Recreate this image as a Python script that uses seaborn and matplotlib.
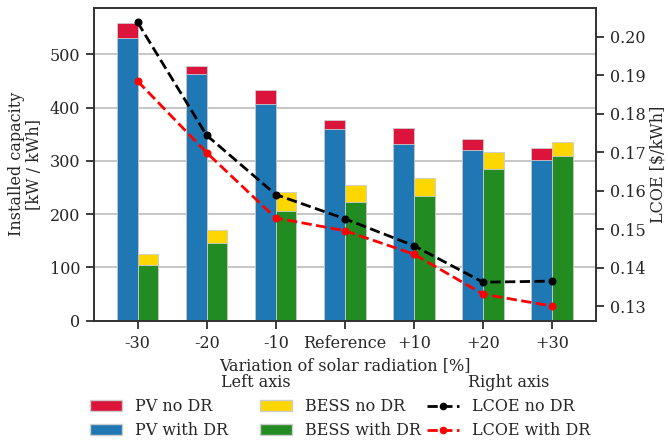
import numpy as np
import pandas as pd
import matplotlib
matplotlib.use("Agg")
import matplotlib.pyplot as plt
from matplotlib.patches import Patch
from matplotlib.lines import Line2D
import seaborn as sns

# ---- data ----
cats = ["-30", "-20", "-10", "Reference", "+10", "+20", "+30"]
pv_no_dr = [559, 479, 434, 377, 361, 342, 325]
pv_with_dr = [530, 464, 407, 359, 332, 320, 302]
bess_no_dr = [125, 170, 241, 254, 268, 316, 335]
bess_with_dr = [105, 146, 205, 223, 234, 285, 310]
lcoe_no_dr = [0.2038, 0.1744, 0.1590, 0.1527, 0.1457, 0.1362, 0.1365]
lcoe_with_dr = [0.1885, 0.1699, 0.1529, 0.1496, 0.1435, 0.1331, 0.1300]

FS = 11.5

sns.set_theme(style="ticks", rc={"axes.grid": False})
plt.rcParams["font.family"] = ["DejaVu Serif"]
plt.rcParams["font.size"] = FS

fig = plt.figure(figsize=(6.68, 4.44), dpi=100)
ax = fig.add_axes([94 / 668, 1 - 320.7 / 444, (595.7 - 94) / 668, (320.7 - 8) / 444])

df_no = pd.DataFrame({"cat": cats * 2, "val": pv_no_dr + bess_no_dr,
                      "tech": ["PV"] * len(cats) + ["BESS"] * len(cats)})
df_dr = pd.DataFrame({"cat": cats * 2, "val": pv_with_dr + bess_with_dr,
                      "tech": ["PV"] * len(cats) + ["BESS"] * len(cats)})

common = dict(x="cat", y="val", hue="tech", order=cats, hue_order=["PV", "BESS"],
              width=0.6, saturation=1, errorbar=None, legend=False, ax=ax,
              edgecolor="0.8", linewidth=0.6)
sns.barplot(data=df_no, palette={"PV": "crimson", "BESS": "gold"}, **common)
sns.barplot(data=df_dr, palette={"PV": "#1f77b4", "BESS": "#228b22"}, **common)

ax.set_axisbelow(True)
ax.yaxis.grid(True, color="0.76", linewidth=1.3)
ax.xaxis.grid(False)
ax.set_ylim(0, 587)
ax.set_yticks([0, 100, 200, 300, 400, 500])
ax.set_xlim(-0.63, 6.63)
ax.set_ylabel("Installed capacity\n[kW / kWh]", fontsize=FS, linespacing=1.05, labelpad=5)
ax.set_xlabel("Variation of solar radiation [%]", fontsize=FS, labelpad=4)
ax.tick_params(labelsize=FS, length=6, pad=4)

ax2 = ax.twinx()
xpos = np.arange(len(cats))
sns.lineplot(x=xpos, y=lcoe_no_dr, ax=ax2, color="black", linestyle="--",
             marker="o", markersize=5, markeredgecolor="black", linewidth=2, legend=False)
sns.lineplot(x=xpos, y=lcoe_with_dr, ax=ax2, color="red", linestyle="--",
             marker="o", markersize=5, markeredgecolor="red", linewidth=2, legend=False)
ax2.set_ylim(0.1262, 0.2075)
ax2.set_yticks(np.round(np.arange(0.13, 0.2001, 0.01), 2))
ax2.set_yticklabels([f"{v:.2f}" for v in np.arange(0.13, 0.2001, 0.01)])
ax2.set_ylabel("LCOE [\\$/kWh]", fontsize=FS, labelpad=3)
ax2.tick_params(labelsize=FS, length=6, pad=4)
ax2.grid(False)
ax2.set_xlim(-0.63, 6.63)

for a in (ax, ax2):
    for s in a.spines.values():
        s.set_visible(True)
        s.set_color("0.2")

left_handles = [
    Patch(facecolor="crimson", edgecolor="0.8", label="PV no DR"),
    Patch(facecolor="#1f77b4", edgecolor="0.8", label="PV with DR"),
    Patch(facecolor="gold", edgecolor="0.8", label="BESS no DR"),
    Patch(facecolor="#228b22", edgecolor="0.8", label="BESS with DR"),
]
right_handles = [
    Line2D([], [], color="black", linestyle="--", marker="o", markersize=4.5, linewidth=2, label="LCOE no DR"),
    Line2D([], [], color="red", linestyle="--", marker="o", markersize=4.5, linewidth=2, label="LCOE with DR"),
]
ytop = 1 - 374 / 444
leg1 = fig.legend(handles=left_handles, ncol=2, frameon=False, fontsize=FS,
                  title="Left axis", title_fontsize=FS, loc="upper right",
                  bbox_to_anchor=(421 / 668, ytop), borderpad=0, borderaxespad=0,
                  labelspacing=0.45)
leg2 = fig.legend(handles=right_handles, ncol=1, frameon=False, fontsize=FS,
                  title="Right axis", title_fontsize=FS, loc="upper left",
                  bbox_to_anchor=(427 / 668, ytop), borderpad=0, borderaxespad=0,
                  labelspacing=0.45)
for lg in (leg1, leg2):
    lg.get_title().set_color("0.15")

fig.savefig("out.png", dpi=100)
